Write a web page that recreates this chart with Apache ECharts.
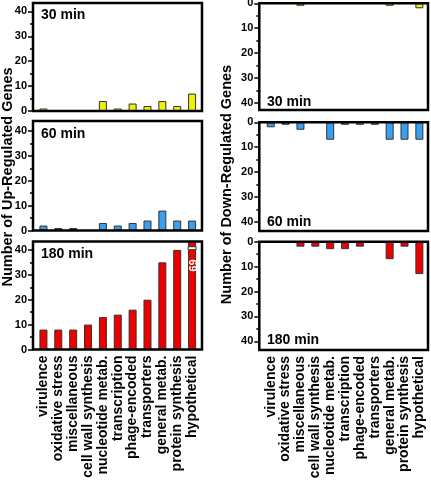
<!DOCTYPE html>
<html><head><meta charset="utf-8">
<script src="https://cdn.jsdelivr.net/npm/echarts@6/dist/echarts.min.js"></script>
<style>html,body{margin:0;padding:0;background:#fff}#c{width:431px;height:480px}</style>
</head><body><div id="c"></div>
<script>
// ---- data ----
const categories = ['virulence','oxidative stress','miscellaneous','cell wall synthesis','nucleotide metab.','transcription','phage-encoded','transporters','general metab.','protein synthesis','hypothetical'];
const timeLabels = ['30 min','60 min','180 min'];
const up30   = [1,0,0,0,4,1,3,2,4,2,7];
const up60   = [2,1,1,0,3,2,3,4,8,4,4];
const up180  = [8,8,8,10,13,14,16,20,35,40,69];
const down30 = [0,0,1,0,0,0,0,0,1,0,2];
const down60 = [2,1,3,0,7,1,1,1,7,7,7];
const down180= [0,0,2,2,3,3,2,0,7,2,13];
const yTickValues = [0,10,20,30,40];
const yMinorTickValues = [5,15,25,35];
const upTitle = 'Number of Up-Regulated Genes';
const downTitle = 'Number of Down-Regulated Genes';

// ---- layout / style ----
const FONT = "'Liberation Sans', Arial, Helvetica, sans-serif";
const colors = ['#f0f000','#3aa0ee','#ee0000'];
const PX_PER_UNIT = 2.49;
const cols = [
  {frameX:33, frameW:169, gridX:36, gridW:163.5, inverse:false,
   panels:[[3,111],[121,230.5],[241.5,349.5]], data:[up30,up60,up180],
   labelX:41, labelY:[15,134,254], title:upTitle, titleX:8, titleY:177},
  {frameX:259.3, frameW:168.7, gridX:263.3, gridW:163.5, inverse:true,
   panels:[[3.3,110],[122.3,231],[241.7,350]], data:[down30,down60,down180],
   labelX:267, labelY:[102,222,340.5], title:downTitle, titleX:227, titleY:184.5}
];

const grids=[], xAxes=[], yAxes=[], series=[], graphics=[];
cols.forEach((c)=>{
  c.panels.forEach(([t,b],ri)=>{
    const gi = grids.length;
    const h = b - t;
    const max = h / PX_PER_UNIT;
    const isBottom = ri === 2;
    grids.push({left:c.gridX, top:t, width:c.gridW, height:h, containLabel:false, outerBoundsMode:'none'});
    xAxes.push({type:'category', gridIndex:gi, data:categories, boundaryGap:true, position:'bottom',
      axisLine:{show:false, onZero:false}, axisTick:{show:false}, splitLine:{show:false},
      axisLabel:{show:isBottom, interval:0, rotate:90, margin:6, fontSize:14, fontWeight:'bold', color:'#000', fontFamily:FONT}});
    const yBase = {type:'value', gridIndex:gi, min:0, max:max, inverse:c.inverse, position:'left',
      offset:c.gridX - c.frameX, splitLine:{show:false}, axisLine:{show:false}};
    const yi = yAxes.length;
    yAxes.push(Object.assign({}, yBase, {
      axisTick:{show:true, length:5, lineStyle:{color:'#000', width:1.5}, customValues:yTickValues},
      axisLabel:{customValues:yTickValues, fontSize:11, fontWeight:'bold', color:'#000', fontFamily:FONT, margin:6}}));
    yAxes.push(Object.assign({}, yBase, {
      axisTick:{show:true, length:3, lineStyle:{color:'#000', width:1.5}, customValues:yMinorTickValues},
      axisLabel:{show:false}}));
    series.push({type:'bar', xAxisIndex:gi, yAxisIndex:yi, data:c.data[ri], barWidth:8, clip:true,
      itemStyle:{color:colors[ri], borderColor:'#333', borderWidth:1}, silent:true});
    const over = c.data[ri].map((v,i)=> v>max ? [i,v] : null).filter(Boolean);
    if (over.length) {
      series.push({type:'custom', xAxisIndex:gi, yAxisIndex:yi, data:over, z:5, silent:true,
        renderItem:(params, api)=>{
          const i = api.value(0), v = api.value(1), w = 8;
          const pb = api.coord([i, max - 2.7]);
          const pl = api.coord([i, max - 9.6]);
          return {type:'group', children:[
            {type:'rect', shape:{x:pb[0]-w/2, y:pb[1]-1.5, width:w, height:3}, style:{fill:'#fff', stroke:'#333', lineWidth:1}},
            {type:'text', x:pl[0], y:pl[1], rotation:-Math.PI/2,
             style:{text:String(v), fill:'#fff', font:'bold 11px '+FONT, align:'center', verticalAlign:'middle'}}
          ]};
        }});
    }
    graphics.push({type:'rect', z:100, silent:true, shape:{x:c.frameX, y:t, width:c.frameW, height:h},
      style:{fill:null, stroke:'#000', lineWidth:2.5}});
    graphics.push({type:'text', z:101, silent:true, x:c.labelX, y:c.labelY[ri],
      style:{text:timeLabels[ri], font:'bold 14px '+FONT, fill:'#000', verticalAlign:'middle'}});
  });
  graphics.push({type:'text', z:101, silent:true, x:c.titleX, y:c.titleY, rotation:Math.PI/2,
    style:{text:c.title, font:'bold 14.5px '+FONT, fill:'#000', align:'center', verticalAlign:'middle'}});
});

const chart = echarts.init(document.getElementById('c'), null, {renderer:'canvas'});
chart.setOption({
  animation:false,
  backgroundColor:'#fff',
  grid:grids, xAxis:xAxes, yAxis:yAxes, series:series, graphic:graphics
});
</script></body></html>
